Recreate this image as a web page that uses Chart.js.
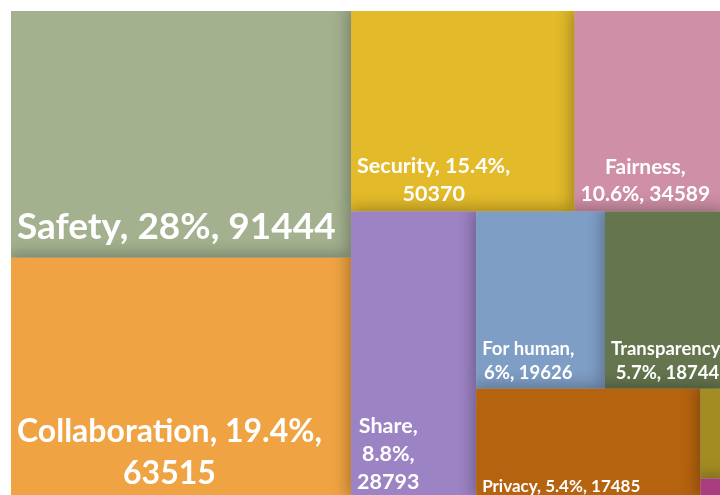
<!DOCTYPE html>
<html>
<head>
<meta charset="utf-8">
<title>Treemap</title>
<script src="https://cdn.jsdelivr.net/npm/chart.js@4.4.1/dist/chart.umd.min.js"></script>
<style>
  html, body { margin: 0; padding: 0; background: #fff; overflow: hidden; }
  body { width: 720px; height: 495px; position: relative; }
  #treemap { position: absolute; left: 11px; top: 11px; }
</style>
</head>
<body>
<canvas id="treemap" width="717" height="489"></canvas>
<script>
// categories and counts, largest first (treemap order)
const categories = ['Safety', 'Collaboration', 'Security', 'Fairness', 'Share',
                    'For human', 'Transparency', 'Privacy', 'Other 1', 'Other 2'];
const counts = [91444, 63515, 50370, 34589, 28793, 19626, 18744, 17485, 1750, 384];

// fill colour and label font size per cell (0 = no label)
const colors = ['#A3B18E', '#F0A342', '#E3BA29', '#CF8FA6', '#9C83C3',
                '#7F9EC6', '#65754D', '#B5630F', '#A38D22', '#A93D80'];
const labelSizes = [37, 32, 21.5, 21, 21.5, 18.5, 18.5, 17, 0, 0];

// layout box in data units
const BOX_W = 717, BOX_H = 500;

const total = counts.reduce((a, b) => a + b, 0);

// squarified treemap, returns {x0, x1, y0, y1} per value
function squarify(values, box) {
    const sum = values.reduce((a, b) => a + b, 0);
    const k = box.w * box.h / sum;
    const items = values.map((v, i) => ({ i, a: v * k }));
    const out = new Array(values.length);
    let { x, y, w, h } = box;
    let row = [];

    const worst = (r, side) => {
        const s = r.reduce((t, it) => t + it.a, 0);
        const max = Math.max(...r.map(it => it.a));
        const min = Math.min(...r.map(it => it.a));
        return Math.max(side * side * max / (s * s), (s * s) / (side * side * min));
    };

    const place = r => {
        const s = r.reduce((t, it) => t + it.a, 0);
        if (w >= h) {
            // column along the left edge
            const t = s / h;
            let yy = y;
            r.forEach(it => {
                const hh = it.a / t;
                out[it.i] = { x0: x, x1: x + t, y0: yy, y1: yy + hh };
                yy += hh;
            });
            x += t; w -= t;
        } else {
            // row along the top edge
            const t = s / w;
            let xx = x;
            r.forEach(it => {
                const ww = it.a / t;
                out[it.i] = { x0: xx, x1: xx + ww, y0: y, y1: y + t };
                xx += ww;
            });
            y += t; h -= t;
        }
    };

    let idx = 0;
    while (idx < items.length) {
        const side = Math.min(w, h);
        const next = items[idx];
        if (!row.length || worst(row.concat(next), side) <= worst(row, side)) {
            row.push(next);
            idx++;
        } else {
            place(row);
            row = [];
        }
    }
    if (row.length) place(row);
    return out;
}

const rects = squarify(counts, { x: 0, y: 0, w: BOX_W, h: BOX_H });

// y runs on a log axis (2 at the top, 1 at the bottom), which squeezes the top rows a little
const toLog = v => 2 - v / BOX_H;

const datasets = rects.map((r, i) => ({
    label: categories[i],
    data: [
        { x: r.x0, y: toLog(r.y0) },
        { x: r.x1, y: toLog(r.y0) },
        { x: r.x1, y: toLog(r.y1) },
        { x: r.x0, y: toLog(r.y1) }
    ],
    backgroundColor: colors[i],
    fill: 'shape',
    borderWidth: 0,
    pointRadius: 0,
    order: -i   // biggest cell drawn first
}));

function labelText(i) {
    const pct = +(counts[i] / total * 100).toFixed(1);
    return `${categories[i]}, ${pct}%, ${counts[i]}`;
}

function wrap(ctx, text, maxWidth) {
    const words = text.split(' ');
    const lines = [];
    let line = '';
    words.forEach(word => {
        const test = line ? line + ' ' + word : word;
        if (line && ctx.measureText(test).width > maxWidth) {
            lines.push(line);
            line = word;
        } else {
            line = test;
        }
    });
    if (line) lines.push(line);
    return lines;
}

// soft shadow each cell throws up and to the left onto its neighbours
const cellShadow = {
    id: 'cellShadow',
    beforeDatasetsDraw(chart) {
        const ctx = chart.ctx;
        ctx.save();
        ctx.shadowColor = 'rgba(0, 0, 0, 0.3)';
        ctx.shadowBlur = 16;
        ctx.shadowOffsetX = -3;
        ctx.shadowOffsetY = -3;
    },
    afterDatasetsDraw(chart) {
        chart.ctx.restore();
    }
};

// white labels sitting at the bottom left of each cell
const cellLabels = {
    id: 'cellLabels',
    afterDatasetsDraw(chart) {
        const { ctx, scales: { x, y } } = chart;
        rects.forEach((r, i) => {
            const size = labelSizes[i];
            if (!size) return;
            const left = x.getPixelForValue(r.x0);
            const right = x.getPixelForValue(r.x1);
            const bottom = y.getPixelForValue(toLog(r.y1));

            ctx.save();
            ctx.font = `bold ${size}px Lato`;
            ctx.fillStyle = '#ffffff';
            ctx.textAlign = 'center';
            ctx.textBaseline = 'alphabetic';
            const lines = wrap(ctx, labelText(i), right - left - 12);
            const blockW = Math.max(...lines.map(l => ctx.measureText(l).width));
            const cx = left + 6 + blockW / 2;
            const lh = size * 1.3;
            let base = bottom - size * 0.5 - (lines.length - 1) * lh;
            lines.forEach(l => {
                ctx.fillText(l, cx, base);
                base += lh;
            });
            ctx.restore();
        });
    }
};

new Chart(document.getElementById('treemap'), {
    type: 'line',
    data: { datasets },
    options: {
        responsive: false,
        animation: false,
        events: [],
        layout: { padding: 0 },
        plugins: {
            legend: { display: false },
            tooltip: { enabled: false }
        },
        scales: {
            x: { type: 'linear', display: false, min: 0, max: BOX_W, bounds: 'data' },
            y: { type: 'logarithmic', display: false, min: 1, max: 2, bounds: 'data' }
        }
    },
    plugins: [cellShadow, cellLabels]
});
</script>
</body>
</html>
